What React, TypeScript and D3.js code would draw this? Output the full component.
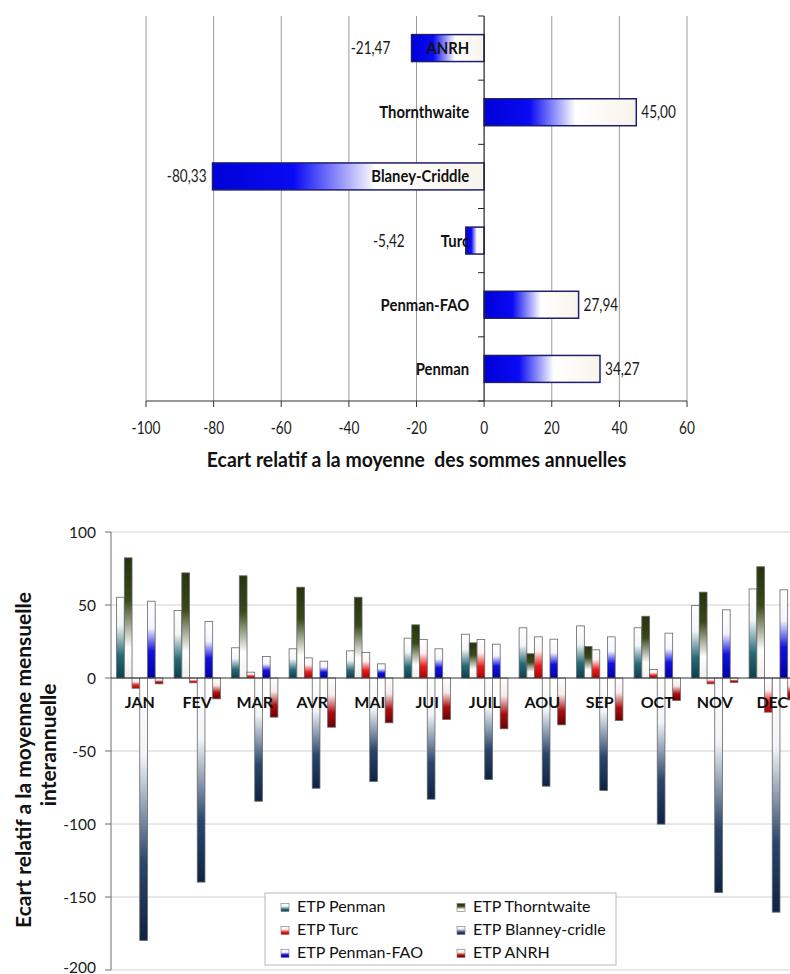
import React from "react";
import * as d3 from "d3";

// ---------- Top chart data ----------
const topCategories = ["ANRH", "Thornthwaite", "Blaney-Criddle", "Turc", "Penman-FAO", "Penman"];
const topValues = [-21.47, 45.0, -80.33, -5.42, 27.94, 34.27];
const topTicks = [-100, -80, -60, -40, -20, 0, 20, 40, 60];
const topTitle = "Ecart relatif a la moyenne  des sommes annuelles";

// ---------- Bottom chart data ----------
const months = ["JAN", "FEV", "MAR", "AVR", "MAI", "JUI", "JUIL", "AOU", "SEP", "OCT", "NOV", "DEC"];
const seriesNames = ["ETP Penman", "ETP Thorntwaite", "ETP Turc", "ETP Blanney-cridle", "ETP Penman-FAO", "ETP ANRH"];
const penman = [55.3, 46.2, 20.7, 20.0, 18.6, 27.3, 30.0, 34.4, 35.7, 34.4, 49.7, 61.0];
const thorntwaite = [82.3, 72.0, 70.0, 62.2, 55.3, 36.4, 24.1, 16.6, 21.6, 42.3, 58.8, 76.2];
const turc = [-7.0, -3.3, 4.0, 13.8, 17.5, 26.4, 26.4, 28.2, 19.3, 5.8, -4.0, -23.4];
const blaney = [-179.8, -139.8, -84.4, -75.5, -70.9, -83.0, -69.5, -74.1, -77.0, -100.1, -147.0, -160.4];
const penmanFao = [52.6, 38.7, 14.7, 11.5, 9.7, 20.0, 23.2, 26.6, 28.2, 30.7, 46.7, 60.4];
const anrh = [-4.0, -14.3, -26.8, -33.7, -30.7, -28.4, -34.8, -32.1, -29.1, -15.4, -3.0, -15.0];
const seriesValues = [penman, thorntwaite, turc, blaney, penmanFao, anrh];
const bottomTicks = [100, 50, 0, -50, -100, -150, -200];
const yTitleLines = ["Ecart relatif a la moyenne mensuelle", "interannuelle"];

// gradient stops per series (offset, colour)
const seriesStops: [number, string][][] = [
  [[0, "#ffffff"], [0.35, "#f2f6f7"], [0.72, "#266a78"], [1, "#0b3f4d"]],
  [[0, "#26330d"], [0.35, "#3a481a"], [0.75, "#ffffff"], [1, "#f0f0ec"]],
  [[0, "#ffffff"], [0.35, "#fdf2f2"], [0.7, "#ea1c1c"], [1, "#b00000"]],
  [[0, "#ffffff"], [0.3, "#f2f4f7"], [0.7, "#2a466c"], [1, "#0e2344"]],
  [[0, "#ffffff"], [0.35, "#f4f4ff"], [0.65, "#1212e0"], [1, "#0000a8"]],
  [[0, "#ffffff"], [0.35, "#f8ecec"], [0.7, "#ad0e0e"], [1, "#6a0000"]],
];

const FONT = "Lato, 'Open Sans', 'DejaVu Sans', sans-serif";

let _ctx: CanvasRenderingContext2D | null = null;
function measure(text: string, font: string): number {
  if (!_ctx) _ctx = document.createElement("canvas").getContext("2d");
  if (!_ctx) return text.length * 8;
  _ctx.font = font;
  return _ctx.measureText(text).width;
}

function T(props: any) {
  const { x, y, sx = 1, anchor = "start", size = 16, weight = 400, fill = "#111", children, rotate = 0 } = props;
  return (
    <text
      transform={`translate(${x},${y}) rotate(${rotate}) scale(${sx},1)`}
      textAnchor={anchor}
      fontSize={size}
      fontWeight={weight}
      fill={fill}
      fontFamily={FONT}
      style={{ whiteSpace: "pre" }}
    >
      {children}
    </text>
  );
}

const fmt = (v: number) => v.toFixed(2).replace(".", ",");

export default function App() {
  // ----- top chart scales -----
  const xTop = d3.scaleLinear().domain([-100, 60]).range([146, 687]);
  const yTop = d3
    .scaleBand<string>()
    .domain(topCategories)
    .range([16, 401])
    .paddingInner(0.58)
    .paddingOuter(0.29);
  const bw = yTop.bandwidth();
  const step = yTop.step();
  const x0 = xTop(0);
  const catSx = 0.9;
  const catFont = `bold 16.5px Lato`;

  const titleW = measure(topTitle, "bold 21px Lato");
  const titleSx = titleW > 0 ? 420 / titleW : 0.85;

  // ----- bottom chart scales -----
  const xB = d3.scaleBand<string>().domain(months).range([111, 801]).paddingInner(0.195).paddingOuter(0.0975);
  const xS = d3.scaleBand<string>().domain(seriesNames).range([0, xB.bandwidth()]);
  const yB = d3.scaleLinear().domain([-200, 100]).range([970, 532]);
  const y0 = yB(0);

  const legendX = 265;
  const legendY = 893;

  return (
    <svg
      width={790}
      height={974}
      style={{ position: "absolute", left: 0, top: 0, display: "block", background: "#fff" }}
    >
      <defs>
        <linearGradient id="topGrad" x1="0" y1="0" x2="1" y2="0">
          <stop offset="0" stopColor="#0000d8" />
          <stop offset="0.3" stopColor="#0a0af4" />
          <stop offset="0.6" stopColor="#ffffff" />
          <stop offset="1" stopColor="#f7f4ea" />
        </linearGradient>
        {seriesStops.map((stops, i) => (
          <linearGradient key={i} id={`sg${i}`} x1="0" y1="0" x2="0" y2="1">
            {stops.map(([o, c], j) => (
              <stop key={j} offset={o} stopColor={c} />
            ))}
          </linearGradient>
        ))}
      </defs>
      <rect x={0} y={0} width={790} height={974} fill="#fff" />

      {/* ================= TOP CHART ================= */}
      {topTicks.map((t) =>
        t === 0 ? null : (
          <line key={`g${t}`} x1={xTop(t)} x2={xTop(t)} y1={16} y2={401} stroke="#9c9c9c" strokeWidth={1} />
        )
      )}
      {/* bars */}
      {topCategories.map((c, i) => {
        const v = topValues[i];
        return (
          <rect
            key={`tb${c}`}
            x={xTop(Math.min(0, v))}
            y={yTop(c)}
            width={Math.abs(xTop(v) - x0)}
            height={bw}
            fill="url(#topGrad)"
            stroke="#1e1e6e"
            strokeWidth={1.5}
          />
        );
      })}
      {/* category labels (drawn over the bars) */}
      {topCategories.map((c) => (
        <T key={`cl${c}`} x={x0 - 15} y={(yTop(c) as number) + bw / 2 + 6} anchor="end" size={16.5} weight={700} sx={catSx}>
          {c}
        </T>
      ))}
      {/* value labels */}
      {topCategories.map((c, i) => {
        const v = topValues[i];
        const yy = (yTop(c) as number) + bw / 2 + 6;
        if (v >= 0) {
          return (
            <T key={`vl${c}`} x={xTop(v) + 5} y={yy} size={17} sx={0.8} fill="#1a1a1a">
              {fmt(v)}
            </T>
          );
        }
        const catStart = x0 - 15 - catSx * measure(c, catFont);
        const end = Math.min(xTop(v) - 6, catStart - 36);
        return (
          <T key={`vl${c}`} x={end} y={yy} size={17} sx={0.8} anchor="end" fill="#1a1a1a">
            {fmt(v)}
          </T>
        );
      })}
      {/* category axis */}
      <line x1={x0} x2={x0} y1={16} y2={401} stroke="#222" strokeWidth={1.2} />
      {d3.range(topCategories.length + 1).map((i) => (
        <line key={`ct${i}`} x1={x0 - 6} x2={x0} y1={16 + i * step} y2={16 + i * step} stroke="#222" strokeWidth={1} />
      ))}
      {/* value axis */}
      <line x1={xTop(-100)} x2={xTop(60)} y1={401} y2={401} stroke="#333" strokeWidth={1.2} />
      {topTicks.map((t) => (
        <g key={`tt${t}`}>
          <line x1={xTop(t)} x2={xTop(t)} y1={401} y2={407} stroke="#333" strokeWidth={1} />
          <T x={xTop(t)} y={434} anchor="middle" size={17.5} sx={0.78} fill="#1a1a1a">
            {String(t)}
          </T>
        </g>
      ))}
      <T x={(xTop(-100) + xTop(60)) / 2} y={467} anchor="middle" size={21} weight={700} sx={titleSx} fill="#111">
        {topTitle}
      </T>

      {/* ================= BOTTOM CHART ================= */}
      {bottomTicks.map((t) =>
        t === 0 ? null : (
          <line key={`bg${t}`} x1={111} x2={790} y1={yB(t)} y2={yB(t)} stroke="#d2d2d2" strokeWidth={1} />
        )
      )}
      {/* y axis */}
      <line x1={111} x2={111} y1={yB(100)} y2={yB(-200)} stroke="#6e6e6e" strokeWidth={1} />
      {bottomTicks.map((t) => (
        <g key={`bt${t}`}>
          <line x1={105} x2={111} y1={yB(t)} y2={yB(t)} stroke="#6e6e6e" strokeWidth={1} />
          <T x={96} y={Math.min(yB(t) + 5.5, 972.5)} anchor="end" size={15.5} fill="#1a1a1a">
            {String(t)}
          </T>
        </g>
      ))}
      {/* bars */}
      {months.map((m, mi) =>
        seriesNames.map((s, si) => {
          const v = seriesValues[si][mi];
          const bx = (xB(m) as number) + (xS(s) as number);
          return (
            <rect
              key={`bb${m}${s}`}
              x={bx}
              y={yB(Math.max(0, v))}
              width={xS.bandwidth()}
              height={Math.abs(yB(v) - y0)}
              fill={`url(#sg${si})`}
              stroke="#666"
              strokeWidth={0.8}
            />
          );
        })
      )}
      {/* zero line */}
      <line x1={111} x2={790} y1={y0} y2={y0} stroke="#333" strokeWidth={1.2} />
      {/* month labels */}
      {months.map((m) => (
        <T key={`ml${m}`} x={(xB(m) as number) + xB.bandwidth() / 2} y={708} anchor="middle" size={16} weight={700} fill="#111">
          {m}
        </T>
      ))}
      {/* y title */}
      <T x={31} y={760} rotate={-90} anchor="middle" size={21} weight={700} fill="#111">
        {yTitleLines[0]}
      </T>
      <T x={56} y={745} rotate={-90} anchor="middle" size={21} weight={700} fill="#111">
        {yTitleLines[1]}
      </T>
      {/* legend */}
      <rect x={legendX} y={legendY} width={351} height={72} fill="#fff" stroke="#b8b8b8" strokeWidth={1} />
      {seriesNames.map((s, i) => {
        const col = i % 2;
        const row = Math.floor(i / 2);
        const base = 911.5 + row * 23;
        const ix = 281 + col * 176;
        return (
          <g key={`lg${s}`}>
            <rect x={ix} y={base - 8} width={8} height={8} fill={`url(#sg${i})`} stroke="#777" strokeWidth={0.6} />
            <T x={ix + 16} y={base} size={16} fill="#111">
              {s}
            </T>
          </g>
        );
      })}
    </svg>
  );
}
